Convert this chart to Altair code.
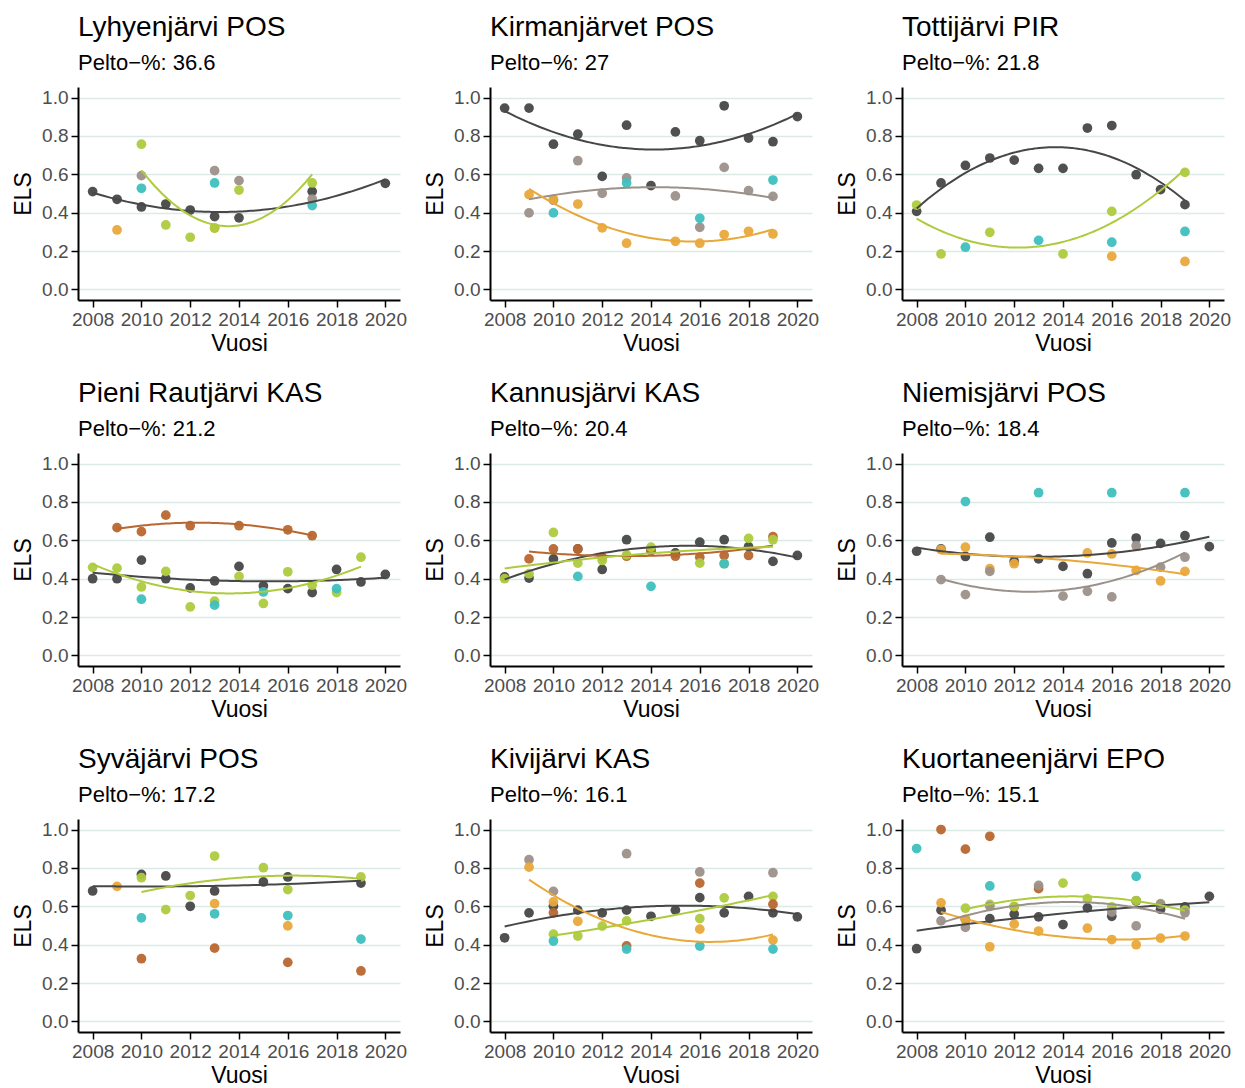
import altair as alt
import pandas as pd

# ---------------- data ----------------
TITLES = ["Lyhyenjärvi POS", "Kirmanjärvet POS", "Tottijärvi PIR",
          "Pieni Rautjärvi KAS", "Kannusjärvi KAS", "Niemisjärvi POS",
          "Syväjärvi POS", "Kivijärvi KAS", "Kuortaneenjärvi EPO"]
PELTO = ["36.6", "27", "21.8", "21.2", "20.4", "18.4", "17.2", "16.1", "15.1"]

SERIES = ["musta", "harmaa", "oranssi", "turkoosi", "vihrea", "ruskea"]
COLORS = ["#474747", "#9c918a", "#e9a83a", "#3fbfbf", "#aecb3f", "#b8672f"]

P1 = {
    "musta": [(2008, .51), (2009, .47), (2010, .43), (2011, .445), (2012, .414), (2013, .38), (2014, .373), (2017, .511), (2020, .553)],
    "harmaa": [(2010, .593), (2013, .619), (2014, .567), (2017, .471)],
    "turkoosi": [(2010, .527), (2013, .555), (2017, .437)],
    "oranssi": [(2009, .31), (2013, .32)],
    "vihrea": [(2010, .757), (2011, .336), (2012, .272), (2013, .32), (2014, .518), (2017, .555)],
}
P2 = {
    "musta": [(2008, .945), (2009, .945), (2010, .757), (2011, .809), (2012, .589), (2013, .856), (2014, .541), (2015, .821), (2016, .775), (2017, .957), (2018, .789), (2019, .77), (2020, .901)],
    "harmaa": [(2009, .399), (2010, .465), (2011, .671), (2012, .501), (2013, .581), (2015, .487), (2016, .324), (2017, .636), (2018, .515), (2019, .485)],
    "oranssi": [(2009, .494), (2010, .47), (2011, .445), (2012, .321), (2013, .241), (2015, .251), (2016, .241), (2017, .286), (2018, .303), (2019, .289)],
    "turkoosi": [(2010, .399), (2013, .555), (2016, .371), (2019, .57)],
}
P3 = {
    "musta": [(2008, .407), (2009, .555), (2010, .646), (2011, .685), (2012, .674), (2013, .631), (2014, .631), (2015, .841), (2016, .854), (2017, .598), (2018, .52), (2019, .442)],
    "vihrea": [(2008, .44), (2009, .185), (2011, .298), (2014, .185), (2016, .407), (2019, .61)],
    "turkoosi": [(2010, .22), (2013, .256), (2016, .246), (2019, .302)],
    "oranssi": [(2016, .173), (2019, .146)],
}
P4 = {
    "ruskea": [(2009, .666), (2010, .645), (2011, .731), (2012, .676), (2014, .676), (2016, .655), (2017, .624)],
    "musta": [(2008, .40), (2009, .40), (2010, .497), (2011, .40), (2012, .352), (2013, .388), (2014, .464), (2015, .362), (2016, .348), (2017, .328), (2018, .448), (2019, .383), (2020, .422)],
    "vihrea": [(2008, .459), (2009, .455), (2010, .357), (2011, .438), (2012, .253), (2013, .283), (2014, .412), (2015, .271), (2016, .436), (2017, .366), (2018, .328), (2019, .512)],
    "turkoosi": [(2010, .293), (2013, .262), (2015, .331), (2018, .348)],
}
P5 = {
    "musta": [(2008, .409), (2009, .403), (2010, .503), (2011, .555), (2012, .448), (2013, .603), (2014, .547), (2015, .534), (2016, .59), (2017, .603), (2018, .567), (2019, .49), (2020, .521)],
    "ruskea": [(2009, .503), (2010, .555), (2011, .555), (2012, .512), (2013, .517), (2014, .547), (2015, .517), (2016, .512), (2017, .521), (2018, .521), (2019, .619)],
    "vihrea": [(2008, .40), (2009, .426), (2010, .641), (2011, .481), (2012, .495), (2013, .524), (2014, .564), (2016, .481), (2017, .478), (2018, .61), (2019, .603)],
    "turkoosi": [(2011, .412), (2014, .36), (2017, .478)],
}
P6 = {
    "musta": [(2008, .543), (2009, .555), (2010, .516), (2011, .616), (2012, .491), (2013, .503), (2014, .464), (2015, .426), (2016, .586), (2017, .612), (2018, .584), (2019, .624), (2020, .567)],
    "oranssi": [(2009, .552), (2010, .564), (2011, .452), (2012, .478), (2015, .534), (2016, .529), (2017, .443), (2018, .388), (2019, .438)],
    "harmaa": [(2009, .395), (2010, .317), (2011, .438), (2014, .309), (2015, .334), (2016, .305), (2017, .572), (2018, .46), (2019, .512)],
    "turkoosi": [(2010, .802), (2013, .848), (2016, .848), (2019, .848)],
}
P7 = {
    "musta": [(2008, .68), (2010, .766), (2011, .758), (2012, .60), (2013, .68), (2015, .727), (2016, .753), (2019, .721)],
    "vihrea": [(2010, .749), (2011, .583), (2012, .656), (2013, .862), (2015, .801), (2016, .687), (2019, .753)],
    "oranssi": [(2009, .704), (2013, .614), (2016, .498)],
    "turkoosi": [(2010, .54), (2013, .561), (2016, .552), (2019, .429)],
    "ruskea": [(2010, .327), (2013, .382), (2016, .308), (2019, .263)],
}
P8 = {
    "musta": [(2008, .436), (2009, .566), (2010, .60), (2011, .58), (2012, .566), (2013, .58), (2014, .548), (2015, .58), (2016, .645), (2017, .566), (2018, .652), (2019, .566), (2020, .545)],
    "harmaa": [(2009, .843), (2010, .678), (2013, .874), (2016, .779), (2019, .775)],
    "oranssi": [(2009, .804), (2010, .623), (2011, .522), (2016, .481), (2019, .424)],
    "vihrea": [(2010, .455), (2011, .445), (2012, .497), (2013, .524), (2016, .536), (2017, .644), (2019, .652)],
    "ruskea": [(2010, .566), (2013, .394), (2016, .721), (2019, .611)],
    "turkoosi": [(2010, .419), (2013, .377), (2016, .393), (2019, .377)],
}
P9 = {
    "musta": [(2008, .379), (2009, .58), (2010, .531), (2011, .536), (2012, .559), (2013, .545), (2014, .505), (2015, .592), (2016, .548), (2017, .628), (2018, .585), (2019, .597), (2020, .652)],
    "ruskea": [(2009, 1.0), (2010, .898), (2011, .965), (2012, .597), (2013, .692)],
    "turkoosi": [(2008, .901), (2011, .706), (2017, .756)],
    "oranssi": [(2009, .618), (2010, .531), (2011, .389), (2012, .507), (2013, .471), (2015, .486), (2016, .427), (2017, .40), (2018, .434), (2019, .445)],
    "vihrea": [(2010, .59), (2011, .61), (2012, .60), (2014, .721), (2015, .64), (2016, .597), (2017, .63), (2018, .614), (2019, .58)],
    "harmaa": [(2009, .524), (2010, .49), (2011, .60), (2013, .709), (2016, .57), (2017, .498), (2018, .611), (2019, .566)],
}
PANELS = [P1, P2, P3, P4, P5, P6, P7, P8, P9]

# series that carry a smoothing curve in each panel
SMOOTHED = [
    ["musta", "vihrea"],
    ["musta", "harmaa", "oranssi"],
    ["musta", "vihrea"],
    ["ruskea", "musta", "vihrea"],
    ["musta", "ruskea", "vihrea"],
    ["musta", "oranssi", "harmaa"],
    ["musta", "vihrea"],
    ["musta", "oranssi", "vihrea"],
    ["musta", "oranssi", "vihrea", "harmaa"],
]

YEAR_TICKS = [2008, 2010, 2012, 2014, 2016, 2018, 2020]
ELS_TICKS = [0.0, 0.2, 0.4, 0.6, 0.8, 1.0]

FONT = "Liberation Sans"
color_scale = alt.Scale(domain=SERIES, range=COLORS)


def panel(i):
    rows = []
    for s, pts in PANELS[i].items():
        for yr, v in pts:
            rows.append({"series": s, "year": yr, "value": v,
                         "smooth": s in SMOOTHED[i]})
    df = pd.DataFrame(rows)
    x = alt.X("year:Q", title="Vuosi",
              scale=alt.Scale(domain=[2007.4, 2020.6], nice=False, zero=False),
              axis=alt.Axis(values=YEAR_TICKS, format="d", grid=False))
    y = alt.Y("value:Q", title="ELS",
              scale=alt.Scale(domain=[-0.055, 1.055], nice=False, zero=False),
              axis=alt.Axis(values=ELS_TICKS, format=".1f", grid=True))
    col = alt.Color("series:N", scale=color_scale, legend=None)
    base = alt.Chart(df)
    pts = base.mark_circle(size=95, opacity=0.95).encode(x=x, y=y, color=col)
    lines = (base.transform_filter("datum.smooth")
             .transform_regression("year", "value", groupby=["series"],
                                   method="poly", order=2)
             .mark_line(strokeWidth=2)
             .encode(x=x, y=y, color=col))
    return alt.layer(pts, lines).properties(
        width=322, height=213,
        title=alt.TitleParams(
            text=TITLES[i], subtitle="Pelto\u2212%: " + PELTO[i],
            anchor="start", frame="group", font=FONT, fontSize=28,
            fontWeight="normal", color="#000000", subtitleFont=FONT,
            subtitleFontSize=22, subtitleColor="#000000",
            subtitlePadding=11, offset=13))


chart = alt.concat(*[panel(i) for i in range(9)], columns=3,
                   spacing={"row": 153, "column": 90}, bounds="flush")

chart = chart.configure(
    background="white", padding={"left": 12, "top": 14, "right": 5, "bottom": 5}
).configure_view(stroke=None).configure_axis(
    domainColor="#000000", domainWidth=2, tickColor="#000000", tickWidth=1.5,
    tickSize=7, labelFont=FONT, labelFontSize=19, labelColor="#4d4d4d",
    titleFont=FONT, titleFontSize=23, titleFontWeight="normal",
    titleColor="#000000", gridColor="#dbe9e7", gridWidth=1.5, labelPadding=3,
).configure_axisY(titlePadding=6).configure_axisX(titlePadding=3)

chart.save("out.html", embed_options={"renderer": "svg", "actions": False})
